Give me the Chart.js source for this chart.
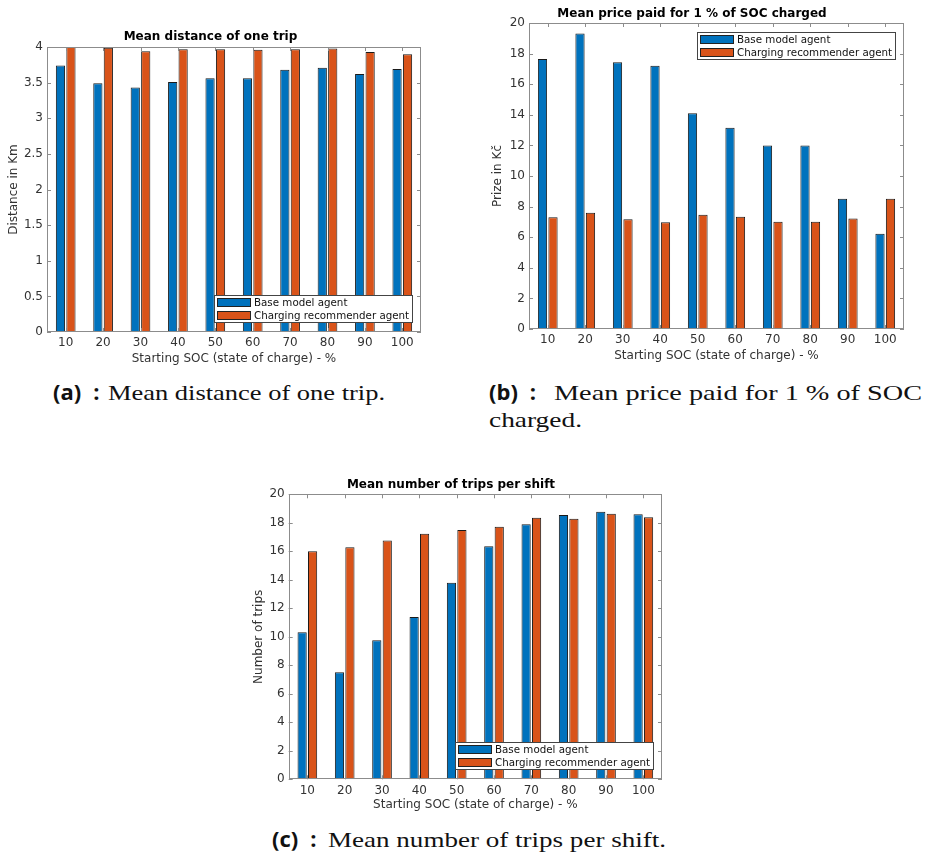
<!DOCTYPE html>
<html>
<head>
<meta charset="utf-8">
<script src="https://cdn.jsdelivr.net/npm/chart.js@4.4.1/dist/chart.umd.min.js"></script>
<style>
  body { margin: 0; background: #fff; width: 927px; height: 860px; position: relative; overflow: hidden; }
  canvas { position: absolute; }
  .cap { position: absolute; line-height: 30px; white-space: nowrap; color: #111; }
  .cap b { font-family: "Open Sans", sans-serif; font-weight: 700; font-size: 22px; }
  .cap .txt { display: inline-block; font-family: "Liberation Serif", serif; font-size: 22px; transform-origin: left center; }
</style>
</head>
<body>
<canvas id="chartDistance" width="430" height="350" style="left:0;top:20px"></canvas>
<canvas id="chartPrice" width="447" height="370" style="left:480px;top:0"></canvas>
<canvas id="chartTrips" width="440" height="350" style="left:240px;top:470px"></canvas>

<div class="cap" style="left:53px;top:376px"><b>(a)</b><b style="margin-left:12px">:</b><span class="txt" data-w="277" style="margin-left:9px">Mean distance of one trip.</span></div>
<div class="cap" style="left:489px;top:376px"><b>(b)</b><b style="margin-left:12px">:</b><span class="txt" data-w="368" style="margin-left:18px">Mean price paid for 1 % of SOC</span></div>
<div class="cap" style="left:489px;top:405px"><span class="txt" data-w="93">charged.</span></div>
<div class="cap" style="left:272px;top:823px"><b>(c)</b><b style="margin-left:12px">:</b><span class="txt" data-w="338" style="margin-left:11px">Mean number of trips per shift.</span></div>

<script>
// --- data ---
const socLevels = ['10', '20', '30', '40', '50', '60', '70', '80', '90', '100'];
const seriesNames = ['Base model agent', 'Charging recommender agent'];

const distBase = [3.74, 3.49, 3.43, 3.51, 3.56, 3.56, 3.68, 3.71, 3.62, 3.69];
const distRecommender = [4.0, 3.99, 3.94, 3.97, 3.97, 3.96, 3.97, 3.98, 3.93, 3.90];

const priceBase = [17.65, 19.32, 17.43, 17.21, 14.1, 13.16, 12.0, 12.0, 8.52, 6.23];
const priceRecommender = [7.3, 7.6, 7.17, 6.97, 7.47, 7.34, 7.01, 7.01, 7.23, 8.52];

const tripsBase = [10.32, 7.51, 9.75, 11.39, 13.8, 16.35, 17.89, 18.55, 18.78, 18.6];
const tripsRecommender = [16.0, 16.28, 16.75, 17.23, 17.5, 17.73, 18.36, 18.29, 18.64, 18.39];

const BLUE = '#0072BD';
const ORANGE = '#D95319';
const FONT = '"DejaVu Sans", sans-serif';

// stretch the serif caption text to the width it has in the figure (LaTeX font is wider)
document.querySelectorAll('.txt').forEach(el => {
    const w = el.getBoundingClientRect().width;
    el.style.transform = `scaleX(${el.dataset.w / w})`;
});

// matlab-ish box, inward ticks and boxed legend inside the axes
const matlabAxes = {
    id: 'matlabAxes',
    afterDraw(chart, args, opts) {
        const { ctx, chartArea: a, scales: { x, y } } = chart;
        ctx.save();
        ctx.strokeStyle = '#8c8c8c';
        ctx.lineWidth = 1;
        ctx.strokeRect(Math.round(a.left) + 0.5, Math.round(a.top) + 0.5,
            Math.round(a.right - a.left) - 1, Math.round(a.bottom - a.top) - 1);
        ctx.beginPath();
        y.ticks.forEach((t, i) => {
            const py = Math.round(y.getPixelForTick(i)) + 0.5;
            ctx.moveTo(a.left, py); ctx.lineTo(a.left + 4, py);
            ctx.moveTo(a.right, py); ctx.lineTo(a.right - 4, py);
        });
        x.ticks.forEach((t, i) => {
            const px = Math.round(x.getPixelForTick(i)) + 0.5;
            ctx.moveTo(px, a.bottom); ctx.lineTo(px, a.bottom - 4);
            ctx.moveTo(px, a.top); ctx.lineTo(px, a.top + 4);
        });
        ctx.stroke();

        // legend
        ctx.font = '10.3px ' + FONT;
        const sets = chart.data.datasets;
        const tw = Math.max(...sets.map(d => ctx.measureText(d.label).width));
        const w = Math.round(40 + tw + 4), h = 28;
        const bx = Math.round(a.right - opts.dx - w);
        const by = Math.round(opts.corner === 'top' ? a.top + opts.dy : a.bottom - opts.dy - h);
        ctx.fillStyle = '#fff';
        ctx.fillRect(bx, by, w, h);
        ctx.strokeStyle = '#444';
        ctx.strokeRect(bx + 0.5, by + 0.5, w - 1, h - 1);
        sets.forEach((d, i) => {
            const sy = by + 3 + i * 13;
            ctx.fillStyle = d.backgroundColor;
            ctx.fillRect(bx + 3, sy, 34, 9);
            ctx.strokeStyle = '#222';
            ctx.strokeRect(bx + 3.5, sy + 0.5, 33, 8);
            ctx.fillStyle = '#111';
            ctx.textBaseline = 'middle';
            ctx.fillText(d.label, bx + 40, sy + 5);
        });
        ctx.restore();
    }
};

function buildChart(id, title, yTitle, base, rec, yMax, yStep, geo) {
    const tickFont = { family: FONT, size: 12 };
    return new Chart(document.getElementById(id), {
        type: 'bar',
        data: {
            labels: socLevels,
            datasets: [
                { label: seriesNames[0], data: base, backgroundColor: BLUE, borderColor: '#1a1a1a', borderWidth: 1 },
                { label: seriesNames[1], data: rec, backgroundColor: ORANGE, borderColor: '#1a1a1a', borderWidth: 1 }
            ]
        },
        options: {
            responsive: false,
            animation: false,
            devicePixelRatio: 1,
            layout: { padding: { left: 0, right: geo.right, top: 0, bottom: 0 } },
            datasets: { bar: { categoryPercentage: 0.56, barPercentage: 0.88 } },
            plugins: {
                legend: { display: false },
                tooltip: { enabled: false },
                title: {
                    display: true, text: title, color: '#000',
                    font: { family: FONT, size: 12, weight: 'bold' },
                    padding: { top: geo.t1, bottom: geo.t2 }
                },
                matlabAxes: { corner: geo.legend, dx: 8, dy: 9 }
            },
            scales: {
                x: {
                    grid: { display: false, drawTicks: false },
                    border: { display: false },
                    ticks: { color: '#333', font: tickFont, padding: 4, maxRotation: 0 },
                    title: {
                        display: true, text: 'Starting SOC (state of charge) - %', color: '#333',
                        font: tickFont, padding: { top: 0, bottom: geo.xtp }
                    },
                    afterFit: s => { s.height = geo.xh; }
                },
                y: {
                    min: 0, max: yMax,
                    grid: { display: false, drawTicks: false },
                    border: { display: false },
                    ticks: {
                        stepSize: yStep, color: '#333', font: tickFont, padding: 4,
                        callback: v => String(Math.round(v * 100) / 100)
                    },
                    title: {
                        display: true, text: yTitle, color: '#333',
                        font: tickFont, padding: { top: geo.ytp, bottom: 0 }
                    },
                    afterFit: s => { s.width = geo.yw; }
                }
            }
        },
        plugins: [matlabAxes]
    });
}

buildChart('chartDistance', 'Mean distance of one trip', 'Distance in Km', distBase, distRecommender, 4, 0.5,
    { yw: 47, right: 9, t1: 9.8, t2: 2.8, xh: 38, ytp: 6.8, xtp: 3.8, legend: 'bottom' });
buildChart('chartPrice', 'Mean price paid for 1 % of SOC charged', 'Prize in Kč', priceBase, priceRecommender, 20, 2,
    { yw: 49, right: 23, t1: 6.5, t2: 2.1, xh: 41, ytp: 10.8, xtp: 6.8, legend: 'top' });
buildChart('chartTrips', 'Mean number of trips per shift', 'Number of trips', tripsBase, tripsRecommender, 20, 2,
    { yw: 48.7, right: 18, t1: 7.8, t2: 2.1, xh: 40.7, ytp: 11.8, xtp: 7.8, legend: 'bottom' });
</script>
</body>
</html>
